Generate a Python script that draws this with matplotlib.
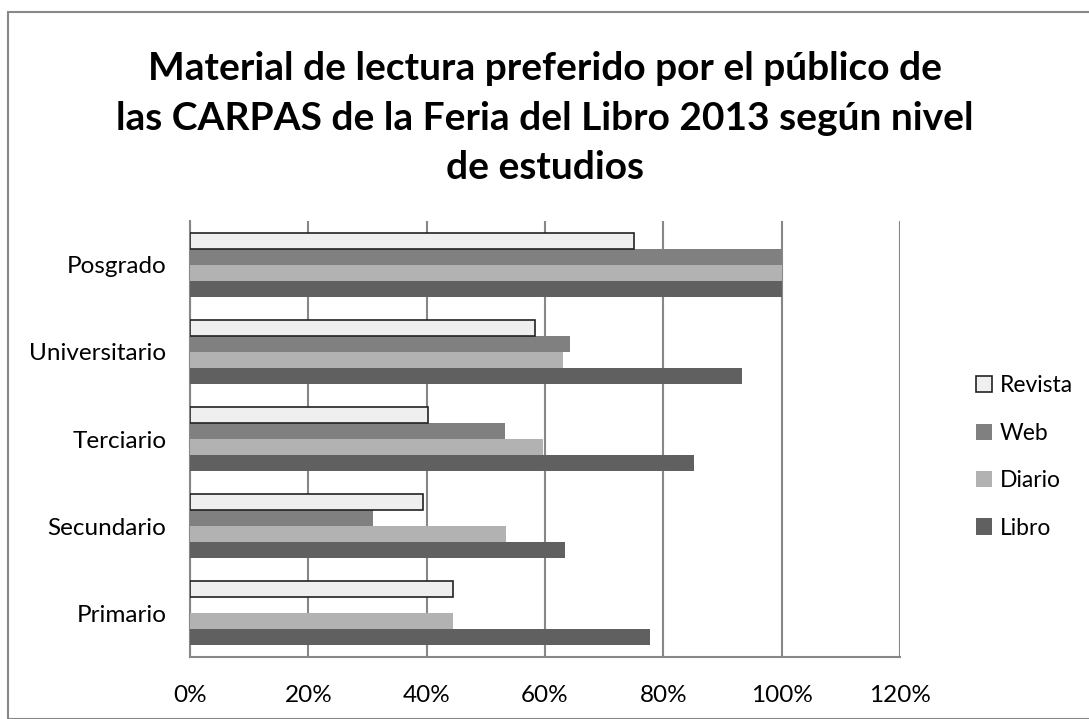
import numpy as np
import matplotlib.pyplot as plt
from matplotlib.patches import Rectangle
from matplotlib.ticker import PercentFormatter

# datos (porcentaje)
niveles = ['Primario', 'Secundario', 'Terciario', 'Universitario', 'Posgrado']
libro = [77.7, 63.4, 85.1, 93.3, 100]
diario = [44.5, 53.4, 59.6, 63.1, 100]
web = [0, 30.9, 53.2, 64.3, 100]
revista = [44.5, 39.4, 40.3, 58.3, 75]

series = ['Libro', 'Diario', 'Web', 'Revista']
valores = [libro, diario, web, revista]
colores = ['#606060', '#b2b2b2', '#808080', '#efefef']
titulo = ('Material de lectura preferido por el público de\n'
          'las CARPAS de la Feria del Libro 2013 según nivel\n'
          'de estudios')

plt.rcParams['font.family'] = ['Lato', 'DejaVu Sans']

fig = plt.figure(figsize=(10.89, 7.19), dpi=100)
ax = fig.add_axes([190 / 1089, 1 - 657 / 719, 710 / 1089, 436 / 719])

# marco exterior del grafico
fig.patches.append(Rectangle((8 / 1089, 0), 1.2, 1 - 12 / 719, transform=fig.transFigure,
                             fill=False, edgecolor='#888888', lw=1.5))

y = np.arange(len(niveles))
alto = 0.1835
for i, (nombre, vals, col) in enumerate(zip(series, valores, colores)):
    pos = y - 1.5 * alto + i * alto
    if nombre == 'Revista':
        ax.barh(pos, vals, height=alto, color=col, edgecolor='#222222', lw=1.2, label=nombre, zorder=3)
    else:
        ax.barh(pos, vals, height=alto, color=col, edgecolor='none', label=nombre, zorder=3)

ax.set_xlim(0, 120)
ax.set_ylim(-0.5, len(niveles) - 0.5)
ax.set_xticks(np.arange(0, 121, 20))
ax.xaxis.set_major_formatter(PercentFormatter(decimals=0))
ax.set_yticks(y)
ax.set_yticklabels(niveles)
ax.grid(axis='x', color='#878787', lw=1.5, zorder=0)
for s in ['top', 'right']:
    ax.spines[s].set_visible(False)
for s in ['left', 'bottom']:
    ax.spines[s].set_color('#878787')
    ax.spines[s].set_linewidth(1.5)
ax.tick_params(axis='both', length=0, labelsize=17.5)
ax.tick_params(axis='x', pad=20)
ax.tick_params(axis='y', pad=17)

h, l = ax.get_legend_handles_labels()
leg = fig.legend(h[::-1], l[::-1], loc='center left', bbox_to_anchor=(955 / 1089, 1 - 457 / 719),
                 frameon=False, fontsize=16.5, handlelength=0.7, handleheight=0.7,
                 handletextpad=0.35, labelspacing=1.15)

fig.text(0.5, 1 - 118 / 719, titulo, ha='center', va='center', fontsize=28,
         fontweight='bold', linespacing=1.5)

fig.savefig('out.png', dpi=100)
